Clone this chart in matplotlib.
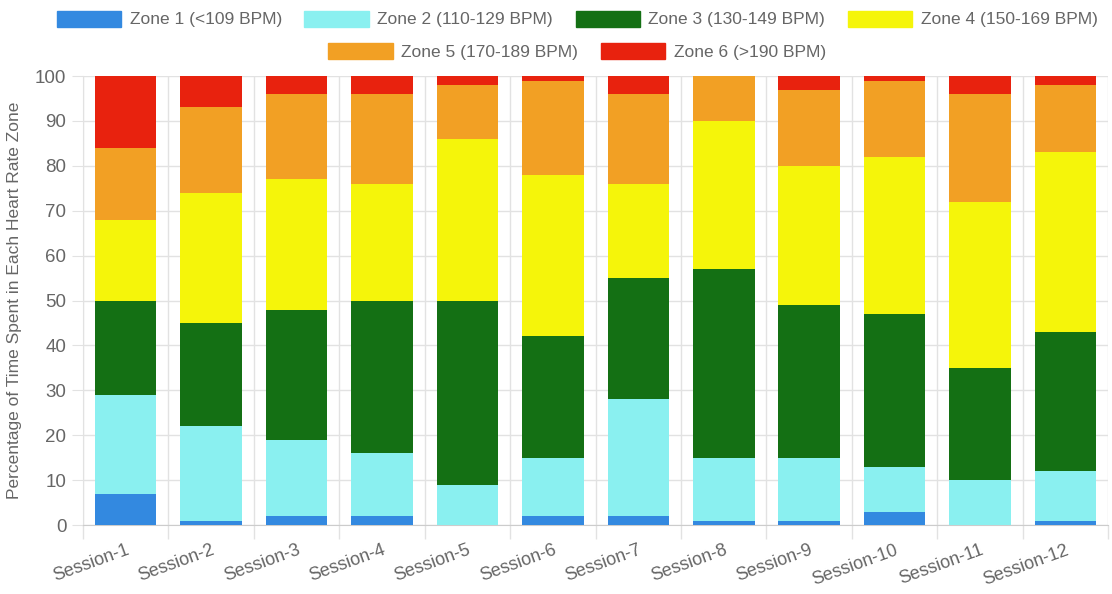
import numpy as np
import matplotlib.pyplot as plt
from matplotlib.patches import Patch

plt.rcParams['font.family'] = ['Liberation Sans', 'DejaVu Sans']

sessions = ['Session-%d' % i for i in range(1, 13)]
zone_labels = ['Zone 1 (<109 BPM)', 'Zone 2 (110-129 BPM)', 'Zone 3 (130-149 BPM)',
               'Zone 4 (150-169 BPM)', 'Zone 5 (170-189 BPM)', 'Zone 6 (>190 BPM)']
zone_colors = ['#3389e0', '#8af0f0', '#147014', '#f5f50a', '#f2a024', '#e8220e']

# percentage of time in each zone, per session
zone1 = [7, 1, 2, 2, 0, 2, 2, 1, 1, 3, 0, 1]
zone2 = [22, 21, 17, 14, 9, 13, 26, 14, 14, 10, 10, 11]
zone3 = [21, 23, 29, 34, 41, 27, 27, 42, 34, 34, 25, 31]
zone4 = [18, 29, 29, 26, 36, 36, 21, 33, 31, 35, 37, 40]
zone5 = [16, 19, 19, 20, 12, 21, 20, 10, 17, 17, 24, 15]
zone6 = [16, 7, 4, 4, 2, 1, 4, 0, 3, 1, 4, 2]
zones = [zone1, zone2, zone3, zone4, zone5, zone6]

grey = '#666666'
grid_c = '#e2e2e2'

fig = plt.figure(figsize=(11.12, 5.94), dpi=100)
ax = fig.add_axes([0.0746, 0.116, 0.922, 0.756])

x = np.arange(len(sessions))
bottom = np.zeros(len(sessions))
for vals, col in zip(zones, zone_colors):
    ax.bar(x, vals, bottom=bottom, width=0.72, color=col, zorder=3)
    bottom += np.array(vals)

ax.set_ylim(0, 100)
ax.set_xlim(-0.5, 11.5)
ax.set_yticks(range(0, 101, 10))
ax.set_xticks(x)
ax.set_xticklabels(sessions, rotation=20, ha='right', rotation_mode='anchor')
ax.tick_params(axis='x', length=0, pad=12, labelsize=13, labelcolor=grey)
ax.tick_params(axis='y', length=8, color=grid_c, labelsize=13.5, labelcolor=grey, pad=4)

# category separators act as vertical grid
ax.set_xticks(np.arange(-0.5, 12, 1), minor=True)
ax.tick_params(axis='x', which='minor', length=10, color=grid_c, width=1)
ax.grid(True, which='minor', axis='x', color=grid_c, lw=1, zorder=0)
ax.grid(True, which='major', axis='y', color=grid_c, lw=1, zorder=0)

for s in ['top', 'right']:
    ax.spines[s].set_visible(False)
ax.spines['left'].set_color(grid_c)
ax.spines['bottom'].set_color('#cccccc')

ax.set_ylabel('Percentage of Time Spent in Each Heart Rate Zone', fontsize=12.5, color=grey, labelpad=9)

handles = [Patch(facecolor=c, edgecolor=c) for c in zone_colors]
leg_kw = dict(frameon=False, fontsize=12.5, labelcolor=grey, handlelength=3.7,
              handleheight=1.05, handletextpad=0.5, columnspacing=1.3)
fig.legend(handles[:4], zone_labels[:4], loc='center', bbox_to_anchor=(0.519, 0.968), ncol=4, **leg_kw)
fig.legend(handles[4:], zone_labels[4:], loc='center', bbox_to_anchor=(0.519, 0.913), ncol=2, **leg_kw)

plt.savefig('out.png', dpi=100)
